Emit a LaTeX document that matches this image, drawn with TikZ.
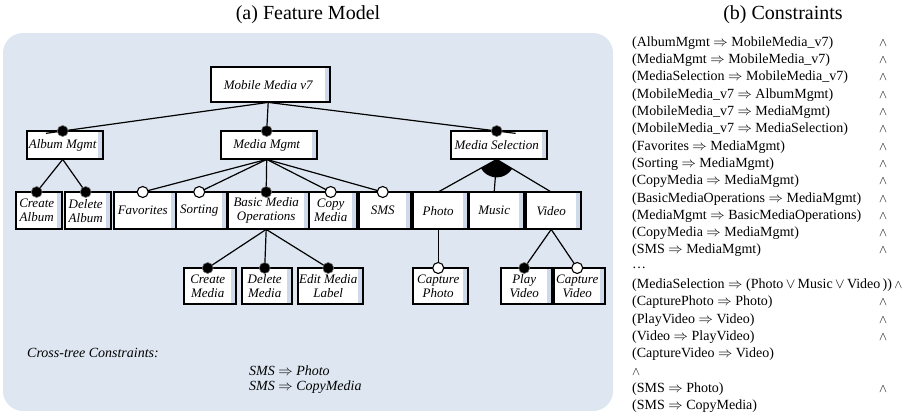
\documentclass[tikz,border=0pt]{standalone}
\usepackage{fontspec}
\setmainfont{Liberation Serif}
\usetikzlibrary{calc}

\definecolor{panelblue}{RGB}{222,231,241}
\definecolor{boxshade}{RGB}{206,218,233}

\tikzset{
  featlabel/.style={inner sep=0pt, fill=white, align=center,
    font=\fontsize{13}{14}\selectfont\itshape},
  boxline/.style={draw=black, line width=1.3pt},
  edge/.style={draw=black, line width=1.2pt},
  mand/.style={circle, fill=black, draw=black!55, line width=0.6pt,
    minimum size=11pt, inner sep=0pt},
  opt/.style={circle, fill=white, draw=black, line width=1.1pt,
    minimum size=11pt, inner sep=0pt},
  caption/.style={font=\fontsize{20}{22}\selectfont, inner sep=0pt},
  crossnote/.style={font=\fontsize{14}{15}\selectfont\itshape, inner sep=0pt, anchor=west},
  context/.style={font=\fontsize{14}{16}\selectfont, inner sep=0pt, anchor=west},
  andsign/.style={font=\fontsize{13}{15}\selectfont, inner sep=0pt},
}

% feature box: name, left, top, right, bottom, label
% the white label area leaves a shaded strip on the right
\newcommand\featbox[6]{%
  \fill[boxshade] (#2,#3) rectangle (#4,#5);
  \node[featlabel, anchor=north west,
        minimum width={(#4-#2-5)*1pt}, minimum height={(#5-#3)*1pt}] (#1) at (#2,#3) {#6};
  \draw[boxline] (#2,#3) rectangle (#4,#5);
}

\begin{document}
\begin{tikzpicture}[x=1pt, y=-1pt]
\useasboundingbox (0,0) rectangle (913,413);

% titles
\node[caption] (capa) at (308,15) {(a) Feature Model};
\node[caption] (capb) at (783,15) {(b) Constraints};

% panel behind the feature model
\fill[panelblue, rounded corners=20pt] (3,33) rectangle (613,411);

% feature boxes
\featbox{root}{211}{67}{330}{102}{Mobile Media v7}
\featbox{album}{27}{131}{103}{159}{Album Mgmt}
\featbox{mediamgmt}{221}{131}{317}{159}{Media Mgmt}
\featbox{mediasel}{451}{131}{547}{159}{Media Selection}

\featbox{createalbum}{16}{192}{62}{229}{Create\\Album}
\featbox{deletealbum}{65}{192}{111}{229}{Delete\\Album}
\featbox{favorites}{114}{192}{176}{229}{Favorites}
\featbox{sorting}{176}{192}{227}{229}{Sorting}
\featbox{bmo}{228}{192}{309}{229}{Basic Media\\Operations}
\featbox{copymedia}{309}{192}{357}{229}{Copy\\Media}
\featbox{sms}{359}{192}{411}{229}{SMS}
\featbox{photo}{413}{192}{468}{229}{Photo}
\featbox{music}{469}{192}{524}{229}{Music}
\featbox{video}{526}{192}{581}{229}{Video}

\featbox{createmedia}{184}{268}{236}{304}{Create\\Media}
\featbox{deletemedia}{242}{268}{292}{304}{Delete\\Media}
\featbox{editlabel}{298}{268}{363}{304}{Edit Media\\Label}
\featbox{capturephoto}{413}{268}{468}{304}{Capture\\Photo}
\featbox{playvideo}{501}{268}{552}{304}{Play\\Video}
\featbox{capturevideo}{554}{268}{605}{304}{Capture\\Video}

% tree edges
\draw[edge, shorten >=-17pt] (root.south) -- (album.north);
\draw[edge] (root.south) -- (mediamgmt.north);
\draw[edge, shorten >=-19pt] (root.south) -- (mediasel.north);

\draw[edge] (album.south) -- (createalbum.north);
\draw[edge] (album.south) -- (deletealbum.north);

\foreach \c in {favorites, sorting, bmo, copymedia, sms}
  \draw[edge] (mediamgmt.south) -- (\c.north);

\foreach \c in {photo, music, video}
  \draw[edge] (mediasel.south) -- (\c.north);

\foreach \c in {createmedia, deletemedia, editlabel}
  \draw[edge] (bmo.south) -- (\c.north);

\draw[edge] (photo.south) -- (capturephoto.north);
\draw[edge] (video.south) -- (playvideo.north);
\draw[edge] (video.south) -- (capturevideo.north);

% or-group sector under Media Selection
\begin{scope}
  \clip (mediasel.south) -- (photo.north) -- (video.north) -- cycle;
  \fill[black] (mediasel.south) circle (18pt);
\end{scope}

% mandatory / optional markers
\node[mand] (m-album) at (album.north) {};
\node[mand] (m-mediamgmt) at (mediamgmt.north) {};
\node[mand] (m-mediasel) at (mediasel.north) {};
\node[mand] (m-createalbum) at (createalbum.north) {};
\node[mand] (m-deletealbum) at (deletealbum.north) {};
\node[opt]  (o-favorites) at (favorites.north) {};
\node[opt]  (o-sorting) at (sorting.north) {};
\node[mand] (m-bmo) at (bmo.north) {};
\node[opt]  (o-copymedia) at (copymedia.north) {};
\node[opt]  (o-sms) at (sms.north) {};
\node[mand] (m-createmedia) at (createmedia.north) {};
\node[mand] (m-deletemedia) at (deletemedia.north) {};
\node[mand] (m-editlabel) at (editlabel.north) {};
\node[opt]  (o-capturephoto) at (capturephoto.north) {};
\node[mand] (m-playvideo) at (playvideo.north) {};
\node[opt]  (o-capturevideo) at (capturevideo.north) {};

% cross-tree constraints
\node[crossnote] (xtitle) at (27,353) {Cross-tree Constraints:};
\node[crossnote] (xc1) at (249,371) {SMS $\Rightarrow$ Photo};
\node[crossnote] (xc2) at (249,387) {SMS $\Rightarrow$ CopyMedia};

% propositional constraints
\node[context] (c1)  at (632,43)    {(AlbumMgmt $\Rightarrow$ MobileMedia\_v7)};
\node[context] (c2)  at (632,60.3)  {(MediaMgmt $\Rightarrow$ MobileMedia\_v7)};
\node[context] (c3)  at (632,77.6)  {(MediaSelection $\Rightarrow$ MobileMedia\_v7)};
\node[context] (c4)  at (632,94.9)  {(MobileMedia\_v7 $\Rightarrow$ AlbumMgmt)};
\node[context] (c5)  at (632,112.2) {(MobileMedia\_v7 $\Rightarrow$ MediaMgmt)};
\node[context] (c6)  at (632,129.5) {(MobileMedia\_v7 $\Rightarrow$ MediaSelection)};
\node[context] (c7)  at (632,146.8) {(Favorites $\Rightarrow$ MediaMgmt)};
\node[context] (c8)  at (632,164.1) {(Sorting $\Rightarrow$ MediaMgmt)};
\node[context] (c9)  at (632,181.4) {(CopyMedia $\Rightarrow$ MediaMgmt)};
\node[context] (c10) at (632,198.7) {(BasicMediaOperations $\Rightarrow$ MediaMgmt)};
\node[context] (c11) at (632,216)   {(MediaMgmt $\Rightarrow$ BasicMediaOperations)};
\node[context] (c12) at (632,233.3) {(CopyMedia $\Rightarrow$ MediaMgmt)};
\node[context] (c13) at (632,250.6) {(SMS $\Rightarrow$ MediaMgmt)};
\node[context] (c14) at (632,268)   {\dots};
\node[context] (c15) at (632,285.2) {(MediaSelection $\Rightarrow$ (Photo\,$\vee$\,Music\,$\vee$\,Video\,))};
\node[context] (c16) at (632,302.5) {(CapturePhoto $\Rightarrow$ Photo)};
\node[context] (c17) at (632,319.8) {(PlayVideo $\Rightarrow$ Video)};
\node[context] (c18) at (632,337.1) {(Video $\Rightarrow$ PlayVideo)};
\node[context] (c19) at (632,354.4) {(CaptureVideo $\Rightarrow$ Video)};
\node[andsign, anchor=west] (c20) at (632,371.7) {$\wedge$};
\node[context] (c21) at (632,389)   {(SMS $\Rightarrow$ Photo)};
\node[context] (c22) at (632,406.3) {(SMS $\Rightarrow$ CopyMedia)};

% conjunction column
\foreach \i/\y in {1/43, 2/60.3, 3/77.6, 4/94.9, 5/112.2, 6/129.5, 7/146.8,
                   8/164.1, 9/181.4, 10/198.7, 11/216, 12/233.3, 13/250.6,
                   16/302.5, 17/319.8, 18/337.1, 21/389}
  \node[andsign] (w\i) at (883,\y) {$\wedge$};
\node[andsign, anchor=west] (w15) at ([xshift=2pt]c15.east) {$\wedge$};

\end{tikzpicture}
\end{document}
